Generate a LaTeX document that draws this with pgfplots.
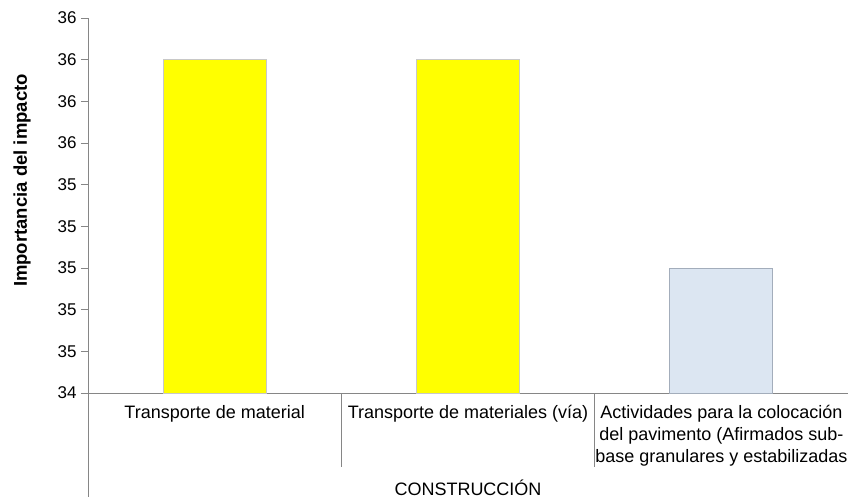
\documentclass[border=0pt]{standalone}
\usepackage{pgfplots}
\pgfplotsset{compat=1.18}
\usepackage{fontspec}
\setmainfont{Liberation Sans}
\definecolor{axgray}{HTML}{868686}
\definecolor{barblue}{HTML}{DCE6F2}
\definecolor{baryellow}{HTML}{FFFF00}
\definecolor{yedge}{HTML}{C8C8C8}
\definecolor{bedge}{HTML}{A3ADBB}
\begin{document}
\begin{tikzpicture}
\begin{axis}[
  scale only axis, width=760pt, height=375pt,
  xmin=-0.5, xmax=2.5, ymin=34.4, ymax=36.2,
  axis lines*=left,
  axis line style={axgray, line width=0.9pt},
  clip mode=individual,
  ytick={34.4,34.6,34.8,35.0,35.2,35.4,35.6,35.8,36.0,36.2},
  yticklabels={34,35,35,35,35,35,36,36,36,36},
  tick align=outside, major tick length=7pt,
  ytick style={axgray, line width=0.9pt},
  yticklabel style={font=\fontsize{17}{20}\selectfont, xshift=-1pt},
  xtick={0,1,2},
  xticklabels={Transporte de material, Transporte de materiales (vía), {Actividades para la colocación\\del pavimento (Afirmados sub-\\base granulares y estabilizadas}},
  major x tick style={draw=none},
  xticklabel style={font=\fontsize{18}{22}\selectfont, align=center, anchor=north, yshift=-2pt},
  ylabel={Importancia del impacto},
  every axis y label/.style={at={([xshift=-66pt,yshift=25pt]axis description cs:0,0.5)}, anchor=center, rotate=90, font=\fontsize{18.5}{22}\selectfont\bfseries},
]
\addplot[ybar, bar width=103pt, fill=baryellow, draw=yedge, line width=0.7pt] coordinates {(0,36) (1,36)};
\addplot[ybar, bar width=103pt, fill=barblue, draw=bedge, line width=0.7pt] coordinates {(2,35)};
\draw[axgray, line width=0.9pt] (axis cs:-0.5,34.4) -- ++(0pt,-104pt);
\draw[axgray, line width=0.9pt] (axis cs:0.5,34.4) -- ++(0pt,-74pt);
\draw[axgray, line width=0.9pt] (axis cs:1.5,34.4) -- ++(0pt,-74pt);
\node[font=\fontsize{18}{22}\selectfont, anchor=center] at ([yshift=-95pt]axis cs:1,34.4) {CONSTRUCCIÓN};
\end{axis}
\pgfresetboundingbox
\path ([shift={(-88pt,-107pt)}]current axis.south west) rectangle ([shift={(4pt,18pt)}]current axis.north east);
\end{tikzpicture}
\end{document}
